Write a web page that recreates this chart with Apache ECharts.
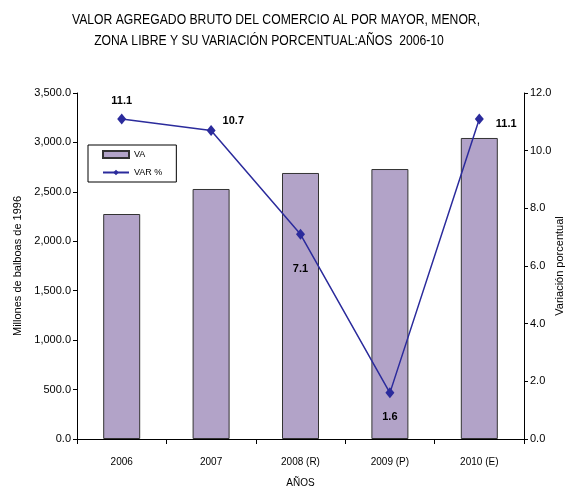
<!DOCTYPE html>
<html>
<head>
<meta charset="utf-8">
<script src="https://cdn.jsdelivr.net/npm/echarts@6/dist/echarts.min.js"></script>
<style>
  html, body { margin: 0; padding: 0; background: #fff; }
  #chart { width: 566px; height: 487px; }
</style>
</head>
<body>
<div id="chart"></div>
<script>
// datos
const years = ['2006', '2007', '2008 (R)', '2009 (P)', '2010 (E)'];
const vaValues = [2276, 2529, 2691, 2731, 3045];
const varValues = [11.1, 10.7, 7.1, 1.6, 11.1];
const titleLines = [
  'VALOR AGREGADO BRUTO DEL COMERCIO AL POR MAYOR, MENOR,',
  'ZONA LIBRE Y SU VARIACIÓN PORCENTUAL:AÑOS  2006-10'
];

const font = '"Liberation Sans", Arial, sans-serif';
const myChart = echarts.init(document.getElementById('chart'));

const fmt = v => v.toLocaleString('en-US', { minimumFractionDigits: 1, maximumFractionDigits: 1 });

// posición de cada etiqueta de VAR %
const labelPos = [
  { position: 'top', distance: 7 },
  { position: 'right', offset: [2, -10] },
  { position: 'bottom', distance: 24 },
  { position: 'bottom', distance: 13 },
  { position: 'right', distance: 12, offset: [0, 5] }
];

const option = {
  backgroundColor: '#fff',
  animation: false,
  graphic: titleLines.map((t, i) => ({
    type: 'text',
    x: i === 0 ? 276 : 269,
    y: 20 + i * 21,
    scaleX: 0.87,
    style: {
      text: t,
      fontFamily: font,
      fontSize: 14,
      fill: '#000',
      textAlign: 'center',
      textVerticalAlign: 'middle'
    }
  })),
  legend: {
    orient: 'vertical',
    left: 88,
    top: 145,
    itemGap: 9,
    itemWidth: 26,
    itemHeight: 7,
    padding: [5, 14, 5, 14],
    borderColor: '#000',
    borderWidth: 1,
    textStyle: { fontFamily: font, fontSize: 9, color: '#000' },
    data: [
      { name: 'VA', icon: 'rect' },
      { name: 'VAR %' }
    ]
  },
  grid: { left: 77, right: 42, top: 93, bottom: 48, outerBoundsMode: 'none' },
  xAxis: {
    type: 'category',
    data: years,
    name: 'AÑOS',
    nameLocation: 'middle',
    nameGap: 39,
    nameMoveOverlap: false,
    nameTextStyle: { fontFamily: font, fontSize: 10, color: '#000' },
    axisLine: { lineStyle: { color: '#000' } },
    axisTick: { show: true, length: 5, lineStyle: { color: '#000' } },
    axisLabel: { fontFamily: font, fontSize: 10, color: '#000', margin: 18 }
  },
  yAxis: [
    {
      type: 'value',
      min: 0,
      max: 3500,
      interval: 500,
      name: 'Millones de balboas de 1996',
      nameLocation: 'middle',
      nameGap: 54,
      nameMoveOverlap: false,
      nameTextStyle: { fontFamily: font, fontSize: 11, color: '#000' },
      axisLine: { show: true, lineStyle: { color: '#000' } },
      axisTick: { show: true, length: 4, lineStyle: { color: '#000' } },
      splitLine: { show: false },
      axisLabel: { fontFamily: font, fontSize: 11, color: '#000', formatter: fmt, margin: 6 }
    },
    {
      type: 'value',
      min: 0,
      max: 12,
      interval: 2,
      position: 'right',
      name: 'Variación porcentual',
      nameLocation: 'middle',
      nameGap: 30,
      nameRotate: 90,
      nameMoveOverlap: false,
      nameTextStyle: { fontFamily: font, fontSize: 11, color: '#000' },
      axisLine: { show: true, lineStyle: { color: '#000' } },
      axisTick: { show: true, length: 4, lineStyle: { color: '#000' } },
      splitLine: { show: false },
      axisLabel: { fontFamily: font, fontSize: 11, color: '#000', formatter: fmt, margin: 6 }
    }
  ],
  series: [
    {
      name: 'VA',
      type: 'bar',
      data: vaValues,
      barWidth: 37,
      itemStyle: { color: '#b2a3c8', borderColor: '#333', borderWidth: 1 }
    },
    {
      name: 'VAR %',
      type: 'line',
      yAxisIndex: 1,
      data: varValues.map((v, i) => ({ value: v, label: labelPos[i] })),
      symbol: 'diamond',
      symbolSize: [9, 11],
      lineStyle: { color: '#2b2b9c', width: 1.5 },
      itemStyle: { color: '#2b2b9c' },
      label: {
        show: true,
        fontFamily: font,
        fontSize: 11,
        fontWeight: 'bold',
        color: '#000',
        formatter: p => p.value.toFixed(1)
      }
    }
  ]
};

myChart.setOption(option);
</script>
</body>
</html>
